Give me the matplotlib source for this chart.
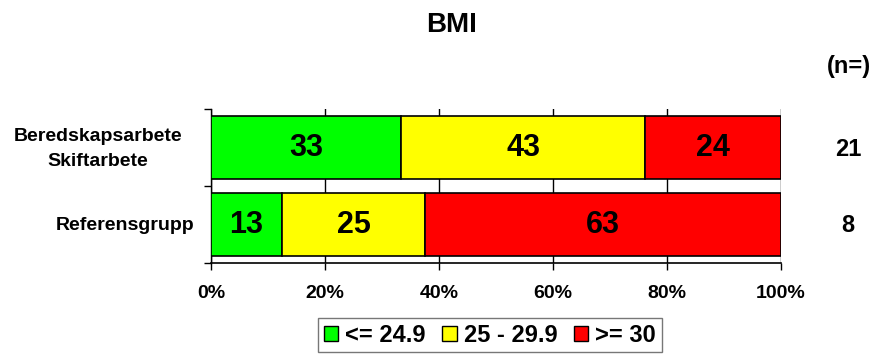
import numpy as np
import matplotlib.pyplot as plt
from matplotlib.patches import Patch

plt.rcParams['font.family'] = ['Liberation Sans', 'DejaVu Sans']
plt.rcParams['font.weight'] = 'bold'

# data
groups = ['Beredskapsarbete\nSkiftarbete', 'Referensgrupp']
n_vals = [21, 8]
categories = ['<= 24.9', '25 - 29.9', '>= 30']
share = [
    [33.3, 42.9, 23.8],
    [12.5, 25.0, 62.5],
]
bar_labels = [
    ['33', '43', '24'],
    ['13', '25', '63'],
]
colors = ['#00ff00', '#ffff00', '#ff0000']

fig = plt.figure(figsize=(8.75, 3.56), dpi=100)
ax = fig.add_axes([0.2411, 0.2612, 0.6514, 0.4326])

ypos = np.arange(len(groups))[::-1]
left = np.zeros(len(groups))
vals = np.array(share)
for k, cat in enumerate(categories):
    ax.barh(ypos, vals[:, k], left=left, height=0.83, color=colors[k],
            edgecolor='black', linewidth=1.2, zorder=3)
    for i in range(len(groups)):
        ax.text(left[i] + vals[i, k] / 2, ypos[i], bar_labels[i][k],
                ha='center', va='center', fontsize=22, fontweight='bold', zorder=4)
    left += vals[:, k]

ax.set_xlim(0, 100)
ax.set_ylim(-0.5, 1.5)
ax.set_xticks(np.arange(0, 101, 20))
ax.set_xticklabels([f'{v}%' for v in range(0, 101, 20)], fontsize=14, fontweight='bold')
ax.set_yticks([-0.5, 0.5, 1.5])
ax.set_yticklabels([])
ax.tick_params(axis='y', length=5, direction='out', width=1)
ax.tick_params(axis='x', length=5, direction='out', width=1, pad=11)
ax.xaxis.grid(True, color='black', linewidth=1, zorder=0)
ax.set_axisbelow(True)
for s in ['top', 'right']:
    ax.spines[s].set_visible(False)
ax.spines['left'].set_linewidth(1)
ax.spines['bottom'].set_linewidth(1.2)

# group labels
fig.text(98 / 875, 1 - 149 / 356, groups[0],
         ha='center', va='center', fontsize=14, fontweight='bold', multialignment='center',
         linespacing=1.65)
fig.text(194 / 875, 1 - 226 / 356, groups[1],
         ha='right', va='center', fontsize=14, fontweight='bold')

# n values
for i, yy in enumerate([149, 226]):
    fig.text(848 / 875, 1 - yy / 356, str(n_vals[i]),
             ha='center', va='center', fontsize=17, fontweight='bold')
fig.text(849 / 875, 1 - 66 / 356, '(n=)', ha='center', va='center', fontsize=17, fontweight='bold')

fig.text(452 / 875, 1 - 25 / 356, 'BMI', ha='center', va='center', fontsize=20, fontweight='bold')

handles = [Patch(facecolor=c, edgecolor='black', linewidth=1) for c in colors]
leg = fig.legend(handles, categories, loc='center', bbox_to_anchor=(490 / 875, 1 - 335 / 356),
                 ncol=3, frameon=True, fancybox=False, edgecolor='#555555',
                 prop={'weight': 'bold', 'size': 17}, handlelength=0.6, handleheight=0.6,
                 handletextpad=0.3, columnspacing=0.7, borderpad=0.25)
leg.get_frame().set_linewidth(1)

fig.savefig('out.png', dpi=100)
